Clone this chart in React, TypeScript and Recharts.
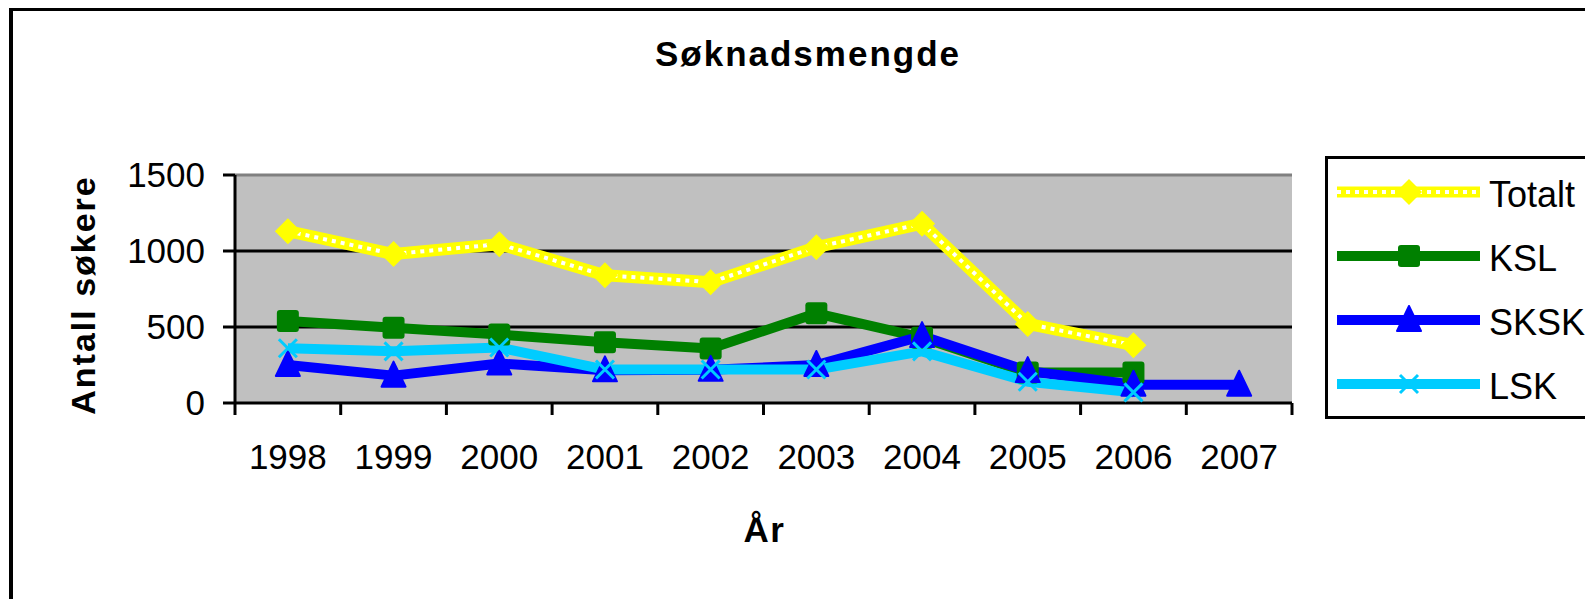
import React from 'react'
import {
  LineChart,
  Line,
  XAxis,
  YAxis,
  CartesianGrid,
  ReferenceLine,
  Label,
} from 'recharts'

// data
const years = ['1998', '1999', '2000', '2001', '2002', '2003', '2004', '2005', '2006', '2007']
const totalt = [1130, 980, 1045, 840, 795, 1025, 1180, 520, 380, null]
const ksl = [540, 495, 450, 400, 358, 590, 430, 200, 200, null]
const sksk = [250, 180, 260, 215, 218, 250, 440, 210, 120, 120]
const lsk = [360, 340, 365, 220, 220, 220, 340, 140, 70, null]
const yTicks = [0, 500, 1000, 1500]

const data = years.map((year, i) => ({
  year,
  Totalt: totalt[i],
  KSL: ksl[i],
  SKSK: sksk[i],
  LSK: lsk[i],
}))

const FONT = '"Liberation Sans", Arial, Helvetica, sans-serif'
const YELLOW = '#FFFF00'
const GREEN = '#008000'
const BLUE = '#0000FF'
const CYAN = '#00CCFF'

type Shape = 'diamond' | 'square' | 'triangle' | 'cross'

function marker(shape: Shape, cx: number, cy: number, color: string, key?: any) {
  if (cx == null || cy == null || isNaN(cx) || isNaN(cy)) return <g key={key} />
  if (shape === 'diamond') {
    const s = 13
    return (
      <polygon
        key={key}
        points={`${cx},${cy - s} ${cx + s},${cy} ${cx},${cy + s} ${cx - s},${cy}`}
        fill={color}
      />
    )
  }
  if (shape === 'square') {
    return <rect key={key} x={cx - 11} y={cy - 11} width={22} height={22} rx={3} fill={color} />
  }
  if (shape === 'triangle') {
    return (
      <polygon
        key={key}
        points={`${cx},${cy - 14} ${cx + 12},${cy + 11} ${cx - 12},${cy + 11}`}
        fill={color}
        stroke={color}
        strokeWidth={2}
        strokeLinejoin="round"
      />
    )
  }
  return (
    <g key={key} stroke={color} strokeWidth={3}>
      <line x1={cx - 9} y1={cy - 9} x2={cx + 9} y2={cy + 9} />
      <line x1={cx - 9} y1={cy + 9} x2={cx + 9} y2={cy - 9} />
    </g>
  )
}

const dotOf = (shape: Shape, color: string) => (p: any) => marker(shape, p.cx, p.cy, color, p.index)

const legendItems: { name: string; color: string; shape: Shape; dotted?: boolean }[] = [
  { name: 'Totalt', color: YELLOW, shape: 'diamond', dotted: true },
  { name: 'KSL', color: GREEN, shape: 'square' },
  { name: 'SKSK', color: BLUE, shape: 'triangle' },
  { name: 'LSK', color: CYAN, shape: 'cross' },
]

const XTick = (props: any) => {
  const { x, y, payload, index } = props
  const off = payload?.offset ?? 0
  return (
    <g>
      <line x1={x - off} x2={x - off} y1={y} y2={y + 12} stroke="#000" strokeWidth={3} />
      {index === years.length - 1 && (
        <line x1={x + off} x2={x + off} y1={y} y2={y + 12} stroke="#000" strokeWidth={3} />
      )}
      <text x={x} y={y + 66} textAnchor="middle" fontSize={35} fontFamily={FONT} fill="#000">
        {payload.value}
      </text>
    </g>
  )
}

const YTitle = (props: any) => {
  const vb = props.viewBox || {}
  const cx = vb.x + 60
  const cy = vb.y + vb.height / 2 + 6
  return (
    <text
      x={cx}
      y={cy}
      transform={`rotate(-90 ${cx} ${cy})`}
      textAnchor="middle"
      fontSize={34}
      fontWeight="bold"
      letterSpacing={2}
      fontFamily={FONT}
      fill="#000"
    >
      Antall søkere
    </text>
  )
}

const XTitle = (props: any) => {
  const vb = props.viewBox || {}
  return (
    <text
      x={vb.x + vb.width / 2 + 1}
      y={vb.y + 139}
      textAnchor="middle"
      fontSize={35}
      fontWeight="bold"
      letterSpacing={1.5}
      fontFamily={FONT}
      fill="#000"
    >
      År
    </text>
  )
}

function LegendBox() {
  return (
    <div
      style={{
        position: 'absolute',
        left: 1317,
        top: 148,
        width: 400,
        height: 256,
        border: '3px solid #000',
        background: '#fff',
        paddingTop: 1,
        boxSizing: 'content-box',
      }}
    >
      {legendItems.map((it) => (
        <div key={it.name} style={{ display: 'flex', alignItems: 'center', height: 64 }}>
          <svg width={152} height={30} style={{ marginLeft: 9, display: 'block' }}>
            <line x1={0} x2={143} y1={15} y2={15} stroke={it.color} strokeWidth={it.dotted ? 11 : 10} />
            {it.dotted && (
              <line x1={0} x2={143} y1={15} y2={15} stroke="#fff" strokeWidth={4} strokeDasharray="4 5" />
            )}
            {marker(it.shape, 72, 15, it.color)}
          </svg>
          <span style={{ fontSize: 36, fontFamily: FONT, color: '#000', lineHeight: '36px', marginTop: 6 }}>
            {it.name}
          </span>
        </div>
      ))}
    </div>
  )
}

export default function App() {
  return (
    <div
      style={{
        position: 'relative',
        width: 1585,
        height: 591,
        overflow: 'hidden',
        background: '#fff',
        fontFamily: FONT,
      }}
    >
      <div
        style={{
          position: 'absolute',
          left: 1,
          top: -1,
          width: 1700,
          height: 700,
          border: '4px solid #000',
        }}
      />
      <div
        style={{
          position: 'absolute',
          left: 0,
          top: 28,
          width: 1600,
          textAlign: 'center',
          fontSize: 35,
          lineHeight: '35px',
          fontWeight: 'bold',
          letterSpacing: 2,
          color: '#000',
        }}
      >
        Søknadsmengde
      </div>
      <div style={{ position: 'absolute', left: 0, top: 0 }}>
        <LineChart
          width={1585}
          height={591}
          data={data}
          margin={{ top: 167, right: 301, left: 27, bottom: 76 }}
        >
          <CartesianGrid fill="#C0C0C0" horizontal={false} vertical={false} />
          <ReferenceLine y={500} stroke="#000" strokeWidth={3} />
          <ReferenceLine y={1000} stroke="#000" strokeWidth={3} />
          <ReferenceLine y={1500} stroke="#808080" strokeWidth={3} />
          <XAxis
            dataKey="year"
            scale="band"
            interval={0}
            height={120}
            tickSize={0}
            tickMargin={0}
            tickLine={false}
            axisLine={{ stroke: '#000', strokeWidth: 3 }}
            tick={<XTick />}
          >
            <Label content={<XTitle />} />
          </XAxis>
          <YAxis
            width={200}
            domain={[0, 1500]}
            ticks={yTicks}
            interval={0}
            tickSize={12}
            tickMargin={18}
            axisLine={{ stroke: '#000', strokeWidth: 3 }}
            tickLine={{ stroke: '#000', strokeWidth: 3 }}
            tick={{ fontSize: 35, fill: '#000', fontFamily: FONT }}
          >
            <Label content={<YTitle />} />
          </YAxis>
          <YAxis
            yAxisId="right"
            orientation="right"
            width={0}
            tick={false}
            tickLine={false}
            axisLine={{ stroke: '#808080', strokeWidth: 3 }}
          />
          <Line
            dataKey="Totalt"
            stroke={YELLOW}
            strokeWidth={12}
            strokeLinejoin="round"
            dot={false}
            activeDot={false}
            isAnimationActive={false}
          />
          <Line
            dataKey="Totalt"
            stroke="#fff"
            strokeWidth={4}
            strokeDasharray="4 5"
            dot={dotOf('diamond', YELLOW)}
            activeDot={false}
            isAnimationActive={false}
          />
          <Line
            dataKey="KSL"
            stroke={GREEN}
            strokeWidth={10}
            strokeLinejoin="round"
            dot={dotOf('square', GREEN)}
            activeDot={false}
            isAnimationActive={false}
          />
          <Line
            dataKey="SKSK"
            stroke={BLUE}
            strokeWidth={10}
            strokeLinejoin="round"
            dot={dotOf('triangle', BLUE)}
            activeDot={false}
            isAnimationActive={false}
          />
          <Line
            dataKey="LSK"
            stroke={CYAN}
            strokeWidth={10}
            strokeLinejoin="round"
            dot={dotOf('cross', CYAN)}
            activeDot={false}
            isAnimationActive={false}
          />
        </LineChart>
      </div>
      <LegendBox />
    </div>
  )
}
